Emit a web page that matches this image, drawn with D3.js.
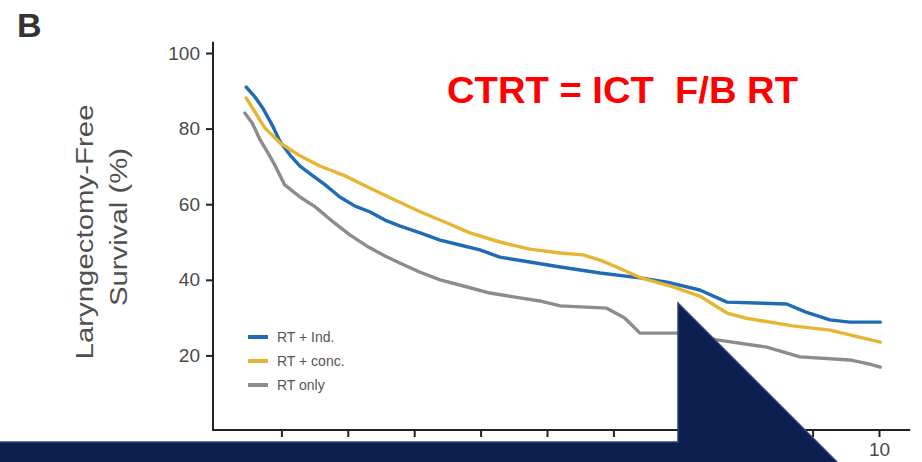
<!DOCTYPE html>
<html>
    <head>
        <script src="https://cdnjs.cloudflare.com/ajax/libs/d3/7.8.5/d3.min.js" type="text/JavaScript"></script>
    </head>
    <style>
        body { margin: 0; background: #ffffff; }
        svg { display: block; }
        .tick text { font-family: "Liberation Sans", Arial, sans-serif; fill: #4a4a4a; }
    </style>
    <body>
        <svg id="chart" width="922" height="462"></svg>
        <script>
            // years after randomisation, survival %
            var blueT = [0.47, 0.60, 0.72, 0.86, 0.98, 1.13, 1.28, 1.46, 1.66, 1.88, 2.11, 2.33, 2.56, 2.79, 3.09, 3.39, 3.69, 3.99, 4.29, 4.74, 5.20, 5.50, 5.80, 6.40, 6.81, 7.30, 7.71, 8.61, 8.89, 9.26, 9.56, 10.02];
            var blueV = [91, 88.4, 85.4, 81, 76.5, 73, 70.1, 67.7, 65.1, 61.9, 59.5, 58, 55.8, 54.2, 52.4, 50.5, 49.2, 47.9, 46, 44.7, 43.4, 42.6, 41.8, 40.5, 39.4, 37.3, 34.1, 33.6, 31.5, 29.4, 28.8, 28.8];

            var yellowT = [0.47, 0.60, 0.75, 0.98, 1.28, 1.58, 1.96, 2.33, 2.71, 3.09, 3.46, 3.84, 4.29, 4.74, 5.20, 5.54, 5.80, 6.05, 6.40, 6.90, 7.30, 7.71, 7.98, 8.70, 9.26, 9.64, 10.02];
            var yellowV = [88.1, 84.4, 80.2, 76.2, 72.8, 70.1, 67.5, 64.3, 61.1, 58, 55.3, 52.4, 50, 48.1, 47.1, 46.6, 45.2, 43.4, 40.6, 38.1, 35.7, 31.2, 29.9, 27.8, 26.7, 25.1, 23.5];

            var grayT = [0.45, 0.56, 0.68, 0.80, 0.90, 1.05, 1.28, 1.51, 1.78, 2.03, 2.29, 2.56, 2.79, 3.09, 3.39, 3.80, 4.14, 4.52, 4.89, 5.20, 5.90, 6.17, 6.40, 7.00, 7.56, 8.31, 8.81, 9.56, 9.86, 10.02];
            var grayV = [84.1, 81.5, 77, 73.5, 70.4, 65.1, 61.9, 59.3, 55.3, 51.9, 48.9, 46.3, 44.4, 42, 40, 38.1, 36.5, 35.4, 34.4, 33.1, 32.5, 29.9, 25.9, 25.9, 24.1, 22.2, 19.6, 18.8, 17.7, 16.9];

            var seriesNames = ["RT + Ind.", "RT + conc.", "RT only"];
            var seriesColors = ["#1f6cb4", "#e6b534", "#8c8c8c"];
            var yTicks = [20, 40, 60, 80, 100];
            var xTicks = [1, 2, 3, 4, 5, 6, 7, 8, 9, 10];

            var svg = d3.select("#chart");

            var x = d3.scaleLinear().domain([0, 10]).range([215, 879]);
            var y = d3.scaleLinear().domain([0, 100]).range([431, 53]);

            // panel letter
            svg.append("text").attr("x", 17).attr("y", 37)
                .style("font-family", "Liberation Sans, Arial, sans-serif")
                .style("font-weight", "bold").style("font-size", "34px")
                .style("fill", "#333").text("B");

            // axes
            var yAxis = svg.append("g").attr("transform", "translate(" + (x(0) - 2) + ",0)")
                .call(d3.axisLeft(y).tickValues(yTicks).tickSize(7).tickSizeOuter(0).tickPadding(6));
            yAxis.select(".domain").remove();
            yAxis.selectAll(".tick text").style("font-size", "19px");
            yAxis.selectAll(".tick line").attr("stroke", "#222").attr("stroke-width", 2);

            var xAxis = svg.append("g").attr("transform", "translate(0," + (y(0) - 1) + ")")
                .call(d3.axisBottom(x).tickValues(xTicks).tickSize(7).tickSizeOuter(0).tickPadding(6));
            xAxis.select(".domain").remove();
            xAxis.selectAll(".tick text").style("font-size", "19px");
            xAxis.selectAll(".tick line").attr("stroke", "#222").attr("stroke-width", 2);

            svg.append("line").attr("x1", x(0) - 2).attr("x2", x(0) - 2)
                .attr("y1", y(103)).attr("y2", y(0))
                .attr("stroke", "#222").attr("stroke-width", 2);
            svg.append("line").attr("x1", x(0) - 3).attr("x2", x(10.47))
                .attr("y1", y(0) - 1).attr("y2", y(0) - 1)
                .attr("stroke", "#222").attr("stroke-width", 2);

            // y label
            var ylab = svg.append("g").attr("transform", "translate(0,232) rotate(-90)")
                .style("font-family", "Liberation Sans, Arial, sans-serif")
                .style("font-size", "23px").style("fill", "#505050");
            ylab.append("text").attr("x", 0).attr("y", 93).attr("text-anchor", "middle")
                .attr("textLength", 255).attr("lengthAdjust", "spacingAndGlyphs")
                .text("Laryngectomy-Free");
            ylab.append("text").attr("x", 5).attr("y", 127).attr("text-anchor", "middle")
                .attr("textLength", 158).attr("lengthAdjust", "spacingAndGlyphs")
                .text("Survival (%)");

            // KM curves (read along the printed steps)
            var line = d3.line().x((d) => x(d[0])).y((d) => y(d[1])).curve(d3.curveLinear);
            var curves = [
                d3.zip(grayT, grayV),
                d3.zip(blueT, blueV),
                d3.zip(yellowT, yellowV)
            ];
            var curveColors = [seriesColors[2], seriesColors[0], seriesColors[1]];

            svg.selectAll("path.km").data(curves).enter().append("path")
                .attr("class", "km")
                .attr("d", line)
                .attr("fill", "none")
                .attr("stroke", (d, i) => curveColors[i])
                .attr("stroke-width", 3.4)
                .attr("stroke-linejoin", "round")
                .attr("stroke-linecap", "round");

            // legend
            var leg = svg.selectAll("g.leg").data(seriesNames).enter().append("g")
                .attr("class", "leg")
                .attr("transform", (d, i) => "translate(248," + (337 + i * 24) + ")");
            leg.append("line").attr("x1", 0).attr("x2", 20).attr("y1", 0).attr("y2", 0)
                .attr("stroke", (d, i) => seriesColors[i]).attr("stroke-width", 4);
            leg.append("text").attr("x", 29).attr("y", 5)
                .style("font-family", "Liberation Sans, Arial, sans-serif")
                .style("font-size", "14px").style("fill", "#555")
                .text((d) => d);

            // red annotation
            svg.append("text").attr("x", 447).attr("y", 103)
                .style("font-family", "Liberation Sans, Arial, sans-serif")
                .style("font-weight", "bold").style("font-size", "37px")
                .style("fill", "#ff0000").style("white-space", "pre")
                .attr("textLength", 351).attr("lengthAdjust", "spacingAndGlyphs")
                .text("CTRT = ICT  F/B RT");

            // slide decoration: bottom bar and corner triangle
            svg.append("rect").attr("x", 0).attr("y", 442).attr("width", 679).attr("height", 20)
                .attr("fill", "#0c1f4e").attr("stroke", "#2c4479").attr("stroke-width", 1.5);
            svg.append("polygon").attr("points", "678,303 678,463 838,463")
                .attr("fill", "#0c1f4e").attr("stroke", "#2c4479").attr("stroke-width", 1.5);
            svg.append("rect").attr("x", 0).attr("y", 443).attr("width", 680).attr("height", 20)
                .attr("fill", "#0c1f4e");
        </script>
    </body>
</html>
